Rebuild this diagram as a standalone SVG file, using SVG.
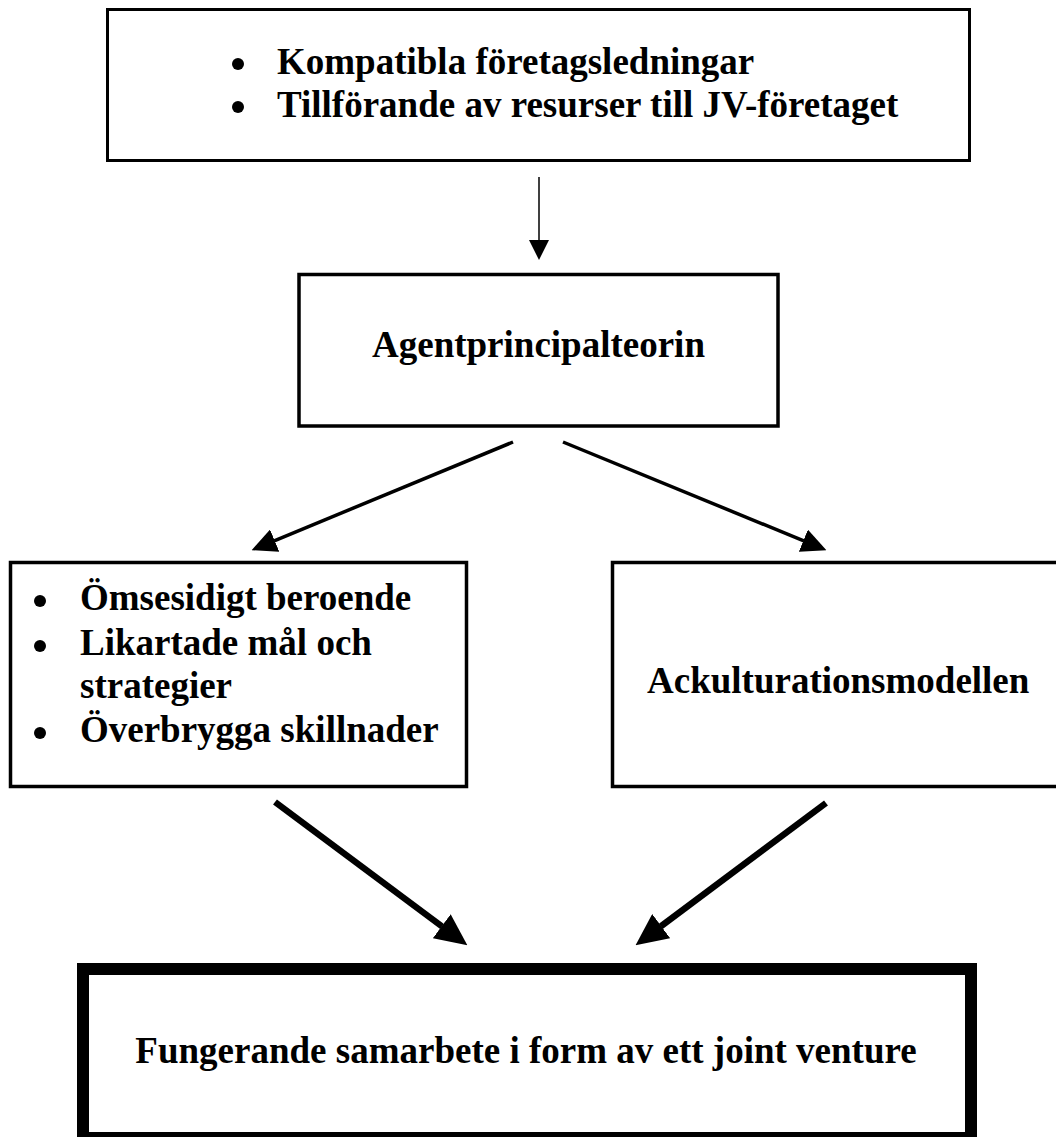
<svg xmlns="http://www.w3.org/2000/svg" width="1056" height="1137" viewBox="0 0 1056 1137">
  <style>
    .box { fill: #ffffff; stroke: #000000; stroke-width: 3.5; }
    .thick { fill: #ffffff; stroke: #000000; stroke-width: 12; }
    .t { font-family: "Liberation Serif", "Times New Roman", serif; font-weight: bold; font-size: 37px; fill: #000000; }
    .dot { fill: #000000; }
    .c { text-anchor: middle; }
    .thin { stroke: #000000; stroke-width: 1.5; fill: none; }
    .mid { stroke: #000000; stroke-width: 3.5; fill: none; }
    .heavy { stroke: #000000; stroke-width: 6.5; fill: none; }
  </style>
  <defs>
    <marker id="hSmall" markerUnits="userSpaceOnUse" markerWidth="20" markerHeight="20" refX="0" refY="10" orient="auto" viewBox="0 0 20 20">
      <path d="M0,0 L20,10 L0,20 Z" fill="#000000"/>
    </marker>
    <marker id="hMid" markerUnits="userSpaceOnUse" markerWidth="25" markerHeight="24" refX="0.5" refY="12" orient="auto" viewBox="0 0 25 24">
      <path d="M0,0 L25,12 L0,24 Z" fill="#000000"/>
    </marker>
    <marker id="hBig" markerUnits="userSpaceOnUse" markerWidth="32" markerHeight="30" refX="0.5" refY="15" orient="auto" viewBox="0 0 32 30">
      <path d="M0,0 L32,15 L0,30 Z" fill="#000000"/>
    </marker>
  </defs>
  <rect width="1056" height="1137" fill="#ffffff"/>

  <g id="connectors">
    <line class="thin" x1="539" y1="177" x2="539" y2="240" marker-end="url(#hSmall)"/>
    <line class="mid" x1="513" y1="442" x2="274.2" y2="540.8" marker-end="url(#hMid)"/>
    <line class="mid" x1="563" y1="442" x2="803.8" y2="540.9" marker-end="url(#hMid)"/>
    <line class="heavy" x1="275" y1="802" x2="442.1" y2="926.5" marker-end="url(#hBig)"/>
    <line class="heavy" x1="826" y1="803" x2="660.8" y2="926.4" marker-end="url(#hBig)"/>
  </g>

  <g id="node-top">
    <rect class="box" x="107.5" y="9.5" width="862" height="151" style="stroke-width:3"/>
    <circle class="dot" cx="238" cy="64" r="6"/>
    <circle class="dot" cx="238" cy="107" r="6"/>
    <text class="t" x="277" y="74">Kompatibla företagsledningar</text>
    <text class="t" x="277" y="117">Tillförande av resurser till JV-företaget</text>
  </g>

  <g id="node-agent">
    <rect class="box" x="299" y="274.5" width="479" height="151.5"/>
    <text class="t c" x="538.5" y="357">Agentprincipalteorin</text>
  </g>

  <g id="node-left">
    <rect class="box" x="10.5" y="562.5" width="456" height="224"/>
    <circle class="dot" cx="40" cy="601" r="6"/>
    <circle class="dot" cx="40" cy="646" r="6"/>
    <circle class="dot" cx="40" cy="733" r="6"/>
    <text class="t" x="80" y="610">Ömsesidigt beroende</text>
    <text class="t" x="80" y="655">Likartade mål och</text>
    <text class="t" x="80" y="698">strategier</text>
    <text class="t" x="80" y="742">Överbrygga skillnader</text>
  </g>

  <g id="node-right">
    <rect class="box" x="612.5" y="562.5" width="460" height="224"/>
    <text class="t" x="647" y="693">Ackulturationsmodellen</text>
  </g>

  <g id="node-bottom">
    <rect class="thick" x="83" y="969" width="888" height="169"/>
    <text class="t c" x="526" y="1063">Fungerande samarbete i form av ett joint venture</text>
  </g>
</svg>
